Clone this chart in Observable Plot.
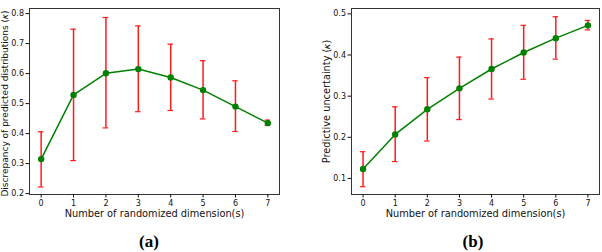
<!DOCTYPE html>
<html>
<head>
<meta charset="utf-8">
<script src="https://cdn.jsdelivr.net/npm/d3@7"></script>
<script src="https://cdn.jsdelivr.net/npm/@observablehq/plot@0.6"></script>
<style>
  body { margin: 0; background: #fff; }
  #wrap { position: relative; width: 602px; height: 252px; overflow: hidden; font-family: "DejaVu Sans", sans-serif; }
  .panel { position: absolute; top: 0; }
  .cap { position: absolute; top: 232px; font-family: "Liberation Serif", "DejaVu Serif", serif; font-weight: bold; font-size: 17px; line-height: 20px; transform: translateX(-50%); }
</style>
</head>
<body>
<div id="wrap">
  <div id="pa" class="panel" style="left:0"></div>
  <div id="pb" class="panel" style="left:300px"></div>
  <div class="cap" style="left:149px">(a)</div>
  <div class="cap" style="left:473px">(b)</div>
</div>
<script>
const dims = [0, 1, 2, 3, 4, 5, 6, 7];

const discMean = [0.315, 0.529, 0.601, 0.615, 0.587, 0.545, 0.490, 0.435];
const discLow  = [0.222, 0.310, 0.419, 0.473, 0.477, 0.449, 0.407, 0.427];
const discHigh = [0.406, 0.748, 0.787, 0.759, 0.698, 0.643, 0.576, 0.445];

const uncMean = [0.123, 0.207, 0.268, 0.319, 0.366, 0.406, 0.441, 0.472];
const uncLow  = [0.080, 0.141, 0.191, 0.243, 0.293, 0.341, 0.390, 0.461];
const uncHigh = [0.165, 0.274, 0.345, 0.395, 0.439, 0.472, 0.493, 0.484];

const xLabel = "Number of randomized dimension(s)";
const yLabelA = "Discrepancy of predicted distributions (\u{1D705})";
const yLabelB = "Predictive uncertainty (\u{1D705})";
const yTicksA = [0.2, 0.3, 0.4, 0.5, 0.6, 0.7, 0.8];
const yTicksB = [0.1, 0.2, 0.3, 0.4, 0.5];

const green = "#008000";
const red = "#ff1a1a";

function panel(mean, low, high, opts) {
  const data = dims.map((x, i) => ({x, m: mean[i], lo: low[i], hi: high[i]}));
  const capW = 0.085;
  return Plot.plot({
    width: opts.width,
    height: 222,
    marginLeft: opts.ml,
    marginRight: opts.mr,
    marginTop: 8,
    marginBottom: 28,
    style: {fontFamily: "DejaVu Sans, sans-serif", fontSize: "8px", color: "#111", background: "#fff"},
    x: {domain: [-0.36, 7.36], label: null},
    y: {domain: opts.ydom, label: null},
    marks: [
      Plot.ruleX(data, {x: "x", y1: "lo", y2: "hi", stroke: red, strokeWidth: 1.5}),
      Plot.ruleY(data, {y: "lo", x1: d => d.x - capW, x2: d => d.x + capW, stroke: red, strokeWidth: 1.2}),
      Plot.ruleY(data, {y: "hi", x1: d => d.x - capW, x2: d => d.x + capW, stroke: red, strokeWidth: 1.2}),
      Plot.line(data, {x: "x", y: "m", stroke: green, strokeWidth: 1.5}),
      Plot.dot(data, {x: "x", y: "m", fill: green, r: 3.2}),
      Plot.frame({stroke: "#333", strokeWidth: 1}),
      Plot.axisX({ticks: dims, tickFormat: d => String(d), tickSize: 3.5, tickPadding: 2, label: null, fontSize: 8}),
      Plot.axisY({ticks: opts.yticks, tickFormat: d => d.toFixed(1), tickSize: 3.5, tickPadding: 2, label: null, fontSize: 8}),
      Plot.text([xLabel], {frameAnchor: "bottom", dy: 22, text: d => d, fontSize: 9.8, textAnchor: "middle", lineAnchor: "bottom"}),
      Plot.text([opts.ylabel], {frameAnchor: "left", dx: opts.ydx, dy: opts.ydy, rotate: -90, text: d => d, fontSize: opts.yfs, textAnchor: "middle", lineAnchor: "top"})
    ]
  });
}

document.getElementById("pa").appendChild(panel(discMean, discLow, discHigh, {
  width: 300, ml: 29, mr: 21, ydom: [0.197, 0.817], yticks: yTicksA, ylabel: yLabelA, ydx: -28, ydy: 2, yfs: 9
}));
document.getElementById("pb").appendChild(panel(uncMean, uncLow, uncHigh, {
  width: 302, ml: 51, mr: 3, ydom: [0.061, 0.513], yticks: yTicksB, ylabel: yLabelB, ydx: -28, ydy: 0, yfs: 9.8
}));
</script>
</body>
</html>
